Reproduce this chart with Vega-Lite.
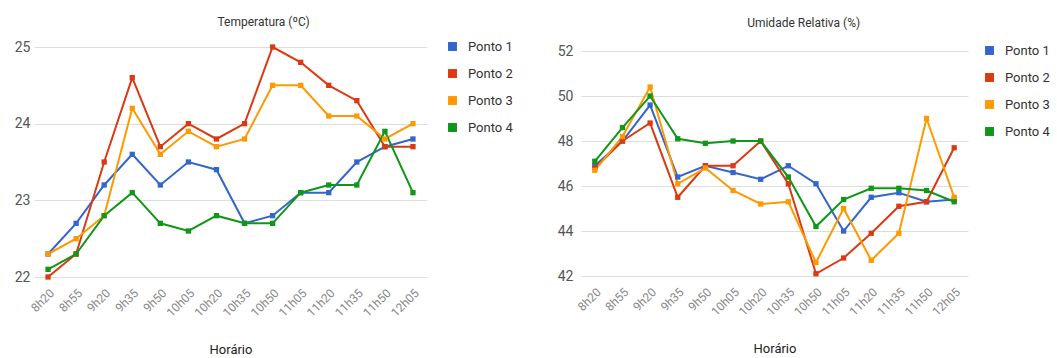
{
  "$schema": "https://vega.github.io/schema/vega-lite/v6.json",
  "padding": {"left": 14, "top": 16, "right": 0, "bottom": 0},
  "background": "white",
  "data": {"values": [
    {"hora":"8h20","ponto":"Ponto 1","temp":22.3,"umid":46.9},
    {"hora":"8h55","ponto":"Ponto 1","temp":22.7,"umid":48.0},
    {"hora":"9h20","ponto":"Ponto 1","temp":23.2,"umid":49.6},
    {"hora":"9h35","ponto":"Ponto 1","temp":23.6,"umid":46.4},
    {"hora":"9h50","ponto":"Ponto 1","temp":23.2,"umid":46.9},
    {"hora":"10h05","ponto":"Ponto 1","temp":23.5,"umid":46.6},
    {"hora":"10h20","ponto":"Ponto 1","temp":23.4,"umid":46.3},
    {"hora":"10h35","ponto":"Ponto 1","temp":22.7,"umid":46.9},
    {"hora":"10h50","ponto":"Ponto 1","temp":22.8,"umid":46.1},
    {"hora":"11h05","ponto":"Ponto 1","temp":23.1,"umid":44.0},
    {"hora":"11h20","ponto":"Ponto 1","temp":23.1,"umid":45.5},
    {"hora":"11h35","ponto":"Ponto 1","temp":23.5,"umid":45.7},
    {"hora":"11h50","ponto":"Ponto 1","temp":23.7,"umid":45.3},
    {"hora":"12h05","ponto":"Ponto 1","temp":23.8,"umid":45.4},
    {"hora":"8h20","ponto":"Ponto 2","temp":22.0,"umid":46.8},
    {"hora":"8h55","ponto":"Ponto 2","temp":22.3,"umid":48.0},
    {"hora":"9h20","ponto":"Ponto 2","temp":23.5,"umid":48.8},
    {"hora":"9h35","ponto":"Ponto 2","temp":24.6,"umid":45.5},
    {"hora":"9h50","ponto":"Ponto 2","temp":23.7,"umid":46.9},
    {"hora":"10h05","ponto":"Ponto 2","temp":24.0,"umid":46.9},
    {"hora":"10h20","ponto":"Ponto 2","temp":23.8,"umid":48.0},
    {"hora":"10h35","ponto":"Ponto 2","temp":24.0,"umid":46.1},
    {"hora":"10h50","ponto":"Ponto 2","temp":25.0,"umid":42.1},
    {"hora":"11h05","ponto":"Ponto 2","temp":24.8,"umid":42.8},
    {"hora":"11h20","ponto":"Ponto 2","temp":24.5,"umid":43.9},
    {"hora":"11h35","ponto":"Ponto 2","temp":24.3,"umid":45.1},
    {"hora":"11h50","ponto":"Ponto 2","temp":23.7,"umid":45.3},
    {"hora":"12h05","ponto":"Ponto 2","temp":23.7,"umid":47.7},
    {"hora":"8h20","ponto":"Ponto 3","temp":22.3,"umid":46.7},
    {"hora":"8h55","ponto":"Ponto 3","temp":22.5,"umid":48.2},
    {"hora":"9h20","ponto":"Ponto 3","temp":22.8,"umid":50.4},
    {"hora":"9h35","ponto":"Ponto 3","temp":24.2,"umid":46.1},
    {"hora":"9h50","ponto":"Ponto 3","temp":23.6,"umid":46.8},
    {"hora":"10h05","ponto":"Ponto 3","temp":23.9,"umid":45.8},
    {"hora":"10h20","ponto":"Ponto 3","temp":23.7,"umid":45.2},
    {"hora":"10h35","ponto":"Ponto 3","temp":23.8,"umid":45.3},
    {"hora":"10h50","ponto":"Ponto 3","temp":24.5,"umid":42.6},
    {"hora":"11h05","ponto":"Ponto 3","temp":24.5,"umid":45.0},
    {"hora":"11h20","ponto":"Ponto 3","temp":24.1,"umid":42.7},
    {"hora":"11h35","ponto":"Ponto 3","temp":24.1,"umid":43.9},
    {"hora":"11h50","ponto":"Ponto 3","temp":23.8,"umid":49.0},
    {"hora":"12h05","ponto":"Ponto 3","temp":24.0,"umid":45.5},
    {"hora":"8h20","ponto":"Ponto 4","temp":22.1,"umid":47.1},
    {"hora":"8h55","ponto":"Ponto 4","temp":22.3,"umid":48.6},
    {"hora":"9h20","ponto":"Ponto 4","temp":22.8,"umid":50.0},
    {"hora":"9h35","ponto":"Ponto 4","temp":23.1,"umid":48.1},
    {"hora":"9h50","ponto":"Ponto 4","temp":22.7,"umid":47.9},
    {"hora":"10h05","ponto":"Ponto 4","temp":22.6,"umid":48.0},
    {"hora":"10h20","ponto":"Ponto 4","temp":22.8,"umid":48.0},
    {"hora":"10h35","ponto":"Ponto 4","temp":22.7,"umid":46.4},
    {"hora":"10h50","ponto":"Ponto 4","temp":22.7,"umid":44.2},
    {"hora":"11h05","ponto":"Ponto 4","temp":23.1,"umid":45.4},
    {"hora":"11h20","ponto":"Ponto 4","temp":23.2,"umid":45.9},
    {"hora":"11h35","ponto":"Ponto 4","temp":23.2,"umid":45.9},
    {"hora":"11h50","ponto":"Ponto 4","temp":23.9,"umid":45.8},
    {"hora":"12h05","ponto":"Ponto 4","temp":23.1,"umid":45.3}
  ]},
  "config": {
    "font": "Roboto",
    "view": {"stroke": null},
    "concat": {"spacing": 44},
    "axis": {"ticks": false, "domain": false, "gridColor": "#dddddd", "gridWidth": 1},
    "legend": {"symbolType": "square", "symbolSize": 80, "labelFontSize": 13, "labelColor": "#333333", "rowPadding": 13, "labelOffset": 9, "symbolStrokeWidth": 0}
  },
  "resolve": {"scale": {"color": "independent"}, "legend": {"color": "independent"}},
  "hconcat": [
    {
      "width": 393,
      "height": 230,
      "title": {"text": "Temperatura (ºC)", "fontSize": 12, "fontWeight": "normal", "color": "#333333", "frame": "bounds", "anchor": "middle", "offset": 11},
      "encoding": {
        "x": {"field": "hora", "type": "ordinal",
          "sort": ["8h20","8h55","9h20","9h35","9h50","10h05","10h20","10h35","10h50","11h05","11h20","11h35","11h50","12h05"],
          "scale": {"type": "point", "padding": 0.5},
          "axis": {"title": "Horário", "labelAngle": -45, "labelFontSize": 12, "labelColor": "#888888", "grid": false, "titleFontSize": 13, "titleFontWeight": "normal", "titleColor": "#222222", "titlePadding": 25, "labelPadding": 10}},
        "y": {"field": "temp", "type": "quantitative",
          "scale": {"domain": [22, 25], "nice": false, "zero": false},
          "axis": {"title": null, "values": [22, 23, 24, 25], "labelFontSize": 14, "labelColor": "#555555", "labelPadding": 4}},
        "color": {"field": "ponto", "type": "nominal",
          "scale": {"domain": ["Ponto 1","Ponto 2","Ponto 3","Ponto 4"], "range": ["#3366cc","#dc3912","#ff9900","#109618"]},
          "legend": {"title": null, "orient": "none", "legendX": 412, "legendY": -7}}
      },
      "layer": [
        {"mark": {"type": "line", "strokeWidth": 2}},
        {"mark": {"type": "point", "shape": "square", "filled": true, "size": 28, "opacity": 1}}
      ]
    },
    {
      "width": 387,
      "height": 229,
      "title": {"text": "Umidade Relativa (%)", "fontSize": 12, "fontWeight": "normal", "color": "#333333", "frame": "bounds", "anchor": "middle", "offset": 14},
      "encoding": {
        "x": {"field": "hora", "type": "ordinal",
          "sort": ["8h20","8h55","9h20","9h35","9h50","10h05","10h20","10h35","10h50","11h05","11h20","11h35","11h50","12h05"],
          "scale": {"type": "point", "padding": 0.5},
          "axis": {"title": "Horário", "labelAngle": -45, "labelFontSize": 12, "labelColor": "#888888", "grid": false, "titleFontSize": 13, "titleFontWeight": "normal", "titleColor": "#222222", "titlePadding": 25, "labelPadding": 10}},
        "y": {"field": "umid", "type": "quantitative",
          "scale": {"domain": [42, 52.18], "nice": false, "zero": false},
          "axis": {"title": null, "values": [42, 44, 46, 48, 50, 52], "labelFontSize": 14, "labelColor": "#555555", "labelPadding": 8}},
        "color": {"field": "ponto", "type": "nominal",
          "scale": {"domain": ["Ponto 1","Ponto 2","Ponto 3","Ponto 4"], "range": ["#3366cc","#dc3912","#ff9900","#109618"]},
          "legend": {"title": null, "orient": "none", "legendX": 402, "legendY": -3}}
      },
      "layer": [
        {"mark": {"type": "line", "strokeWidth": 2}},
        {"mark": {"type": "point", "shape": "square", "filled": true, "size": 28, "opacity": 1}}
      ]
    }
  ]
}
